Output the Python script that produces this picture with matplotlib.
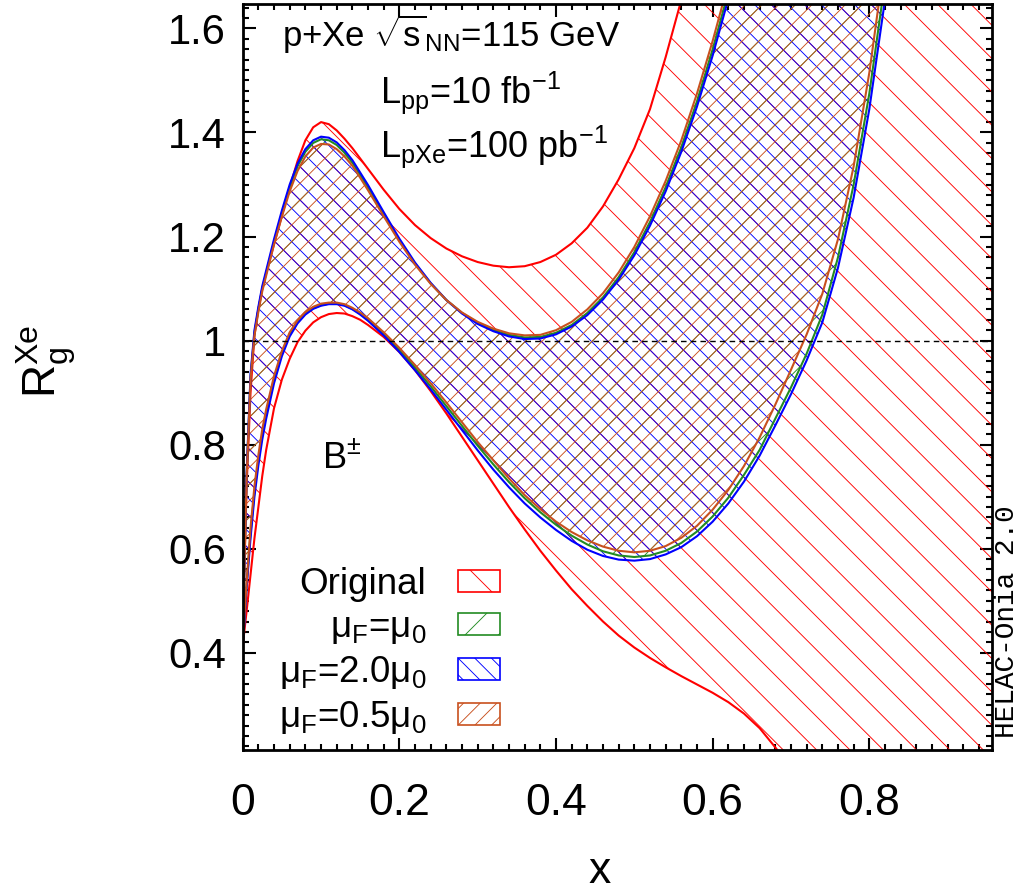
import numpy as np
import matplotlib
matplotlib.use("Agg")
import matplotlib.pyplot as plt
from matplotlib import font_manager
from matplotlib.patches import Patch

# ---------------- data ----------------
x = [0.0, 0.002, 0.005, 0.01, 0.015, 0.02, 0.025, 0.03,
     0.04, 0.05, 0.06, 0.07, 0.08, 0.09, 0.10,
     0.11, 0.12, 0.13, 0.14, 0.15, 0.16,
     0.18, 0.20, 0.22, 0.24, 0.26, 0.28, 0.30, 0.32, 0.34, 0.36, 0.38,
     0.40, 0.42, 0.44, 0.46, 0.48, 0.50, 0.52, 0.54, 0.56, 0.58, 0.60,
     0.62, 0.64, 0.66, 0.68, 0.70, 0.72, 0.74, 0.76, 0.78, 0.80, 0.82, 0.84, 0.86, 0.88, 0.92, 0.96]

orig_hi = [0.41, 0.55, 0.72, 0.90, 1.01, 1.06, 1.10, 1.13,
           1.185, 1.24, 1.295, 1.345, 1.385, 1.41, 1.42,
           1.416, 1.404, 1.388, 1.37, 1.35, 1.33,
           1.29, 1.253, 1.222, 1.197, 1.177, 1.162, 1.151, 1.144, 1.141, 1.143, 1.151,
           1.165, 1.187, 1.217, 1.258, 1.31, 1.37, 1.445, 1.545, 1.655, 1.78, 1.93,
           2.1, 2.3, 2.5, 2.7, 2.9, 3.1, 3.3, 3.5, 3.7, 3.9, 4.1, 4.3, 4.5, 4.7, 5.1, 5.5]
orig_lo = [0.41, 0.44, 0.48, 0.55, 0.62, 0.68, 0.74, 0.79,
           0.87, 0.925, 0.965, 0.997, 1.019, 1.035, 1.045,
           1.051, 1.053, 1.052, 1.047, 1.04, 1.03,
           1.007, 0.978, 0.943, 0.903, 0.86, 0.815, 0.77, 0.725, 0.68, 0.637, 0.596,
           0.558, 0.522, 0.49, 0.46, 0.433, 0.41, 0.39, 0.372, 0.355, 0.339, 0.323,
           0.305, 0.283, 0.255, 0.218, 0.178, 0.138, 0.098, 0.058, 0.018, -0.022, -0.062, -0.1, -0.14, -0.18, -0.26, -0.34]

mu1_hi = [0.41, 0.56, 0.74, 0.93, 1.015, 1.06, 1.10, 1.13,
          1.19, 1.245, 1.295, 1.335, 1.363, 1.38, 1.387,
          1.385, 1.376, 1.361, 1.342, 1.318, 1.294,
          1.243, 1.193, 1.148, 1.11, 1.078, 1.053, 1.034, 1.02, 1.011, 1.006, 1.007,
          1.015, 1.03, 1.053, 1.083, 1.122, 1.17, 1.228, 1.295, 1.372, 1.46, 1.56,
          1.67, 1.79, 1.92, 2.06, 2.2, 2.35, 2.5, 2.65, 2.8, 2.95, 3.1, 3.25, 3.4, 3.55, 3.85, 4.15]
mu1_lo = [0.41, 0.46, 0.53, 0.63, 0.71, 0.77, 0.82, 0.86,
          0.925, 0.975, 1.012, 1.036, 1.052, 1.062, 1.068,
          1.071, 1.071, 1.068, 1.061, 1.052, 1.04,
          1.013, 0.982, 0.948, 0.912, 0.874, 0.836, 0.798, 0.762, 0.728, 0.697, 0.67,
          0.646, 0.625, 0.608, 0.595, 0.587, 0.584, 0.587, 0.596, 0.611, 0.633, 0.662,
          0.698, 0.742, 0.79, 0.85, 0.91, 0.975, 1.05, 1.16, 1.30, 1.475, 1.69, 1.93, 2.2, 2.5, 3.1, 3.7]

mu2_hi = [0.41, 0.56, 0.745, 0.935, 1.02, 1.065, 1.105, 1.135,
          1.195, 1.25, 1.30, 1.34, 1.368, 1.385, 1.392,
          1.39, 1.381, 1.366, 1.347, 1.323, 1.299,
          1.247, 1.196, 1.15, 1.111, 1.078, 1.052, 1.032, 1.018, 1.008, 1.003, 1.004,
          1.012, 1.027, 1.049, 1.079, 1.117, 1.164, 1.221, 1.287, 1.363, 1.45, 1.548,
          1.657, 1.777, 1.907, 2.05, 2.2, 2.35, 2.5, 2.65, 2.8, 2.95, 3.1, 3.25, 3.4, 3.55, 3.85, 4.15]
mu2_lo = [0.41, 0.455, 0.525, 0.62, 0.70, 0.76, 0.81, 0.85,
          0.918, 0.97, 1.008, 1.033, 1.05, 1.061, 1.067,
          1.07, 1.07, 1.067, 1.06, 1.05, 1.038,
          1.01, 0.978, 0.943, 0.906, 0.867, 0.828, 0.789, 0.752, 0.718, 0.687, 0.66,
          0.636, 0.615, 0.598, 0.586, 0.579, 0.577, 0.58, 0.589, 0.603, 0.624, 0.652,
          0.687, 0.729, 0.779, 0.837, 0.897, 0.962, 1.035, 1.14, 1.275, 1.445, 1.655, 1.89, 2.16, 2.46, 3.06, 3.66]

mu05_hi = [0.41, 0.555, 0.735, 0.925, 1.01, 1.055, 1.095, 1.125,
           1.185, 1.238, 1.287, 1.326, 1.354, 1.371, 1.378,
           1.377, 1.368, 1.354, 1.336, 1.313, 1.289,
           1.239, 1.19, 1.146, 1.109, 1.078, 1.054, 1.036, 1.023, 1.014, 1.01, 1.011,
           1.02, 1.036, 1.06, 1.091, 1.131, 1.18, 1.239, 1.307, 1.385, 1.475, 1.576,
           1.687, 1.81, 1.94, 2.08, 2.22, 2.37, 2.52, 2.67, 2.82, 2.97, 3.12, 3.27, 3.42, 3.57, 3.87, 4.17]
mu05_lo = [0.41, 0.465, 0.535, 0.64, 0.72, 0.78, 0.83, 0.868,
           0.932, 0.98, 1.016, 1.039, 1.055, 1.065, 1.071,
           1.073, 1.073, 1.07, 1.063, 1.054, 1.043,
           1.016, 0.986, 0.953, 0.918, 0.881, 0.843, 0.805, 0.77, 0.735, 0.703, 0.676,
           0.652, 0.632, 0.616, 0.604, 0.596, 0.593, 0.596, 0.605, 0.621, 0.644, 0.675,
           0.713, 0.759, 0.814, 0.877, 0.944, 1.012, 1.09, 1.195, 1.335, 1.515, 1.735, 1.99, 2.27, 2.57, 3.17, 3.77]

labels = ["Original", "μ$_\\mathrm{F}$=μ$_\\mathrm{0}$",
          "μ$_\\mathrm{F}$=2.0μ$_\\mathrm{0}$", "μ$_\\mathrm{F}$=0.5μ$_\\mathrm{0}$"]
colors = ["#ff0000", "#228b22", "#0000ff", "#c8501e"]
hatches = ["\\", "/", "\\\\", "//"]
xticks = [0, 0.2, 0.4, 0.6, 0.8]
xticklabels = ["0", "0.2", "0.4", "0.6", "0.8"]
yticks = [0.4, 0.6, 0.8, 1.0, 1.2, 1.4, 1.6]
yticklabels = ["0.4", "0.6", "0.8", "1", "1.2", "1.4", "1.6"]

# ---------------- fonts ----------------
names = {f.name for f in font_manager.fontManager.ttflist}
SANS = "Liberation Sans"
NARROW = "Liberation Sans Narrow" if "Liberation Sans Narrow" in names else SANS
plt.rcParams["font.family"] = [SANS, "DejaVu Sans"]
plt.rcParams["mathtext.fontset"] = "custom"
plt.rcParams["mathtext.rm"] = SANS
plt.rcParams["mathtext.it"] = SANS + ":italic"
plt.rcParams["mathtext.bf"] = SANS + ":bold"
plt.rcParams["mathtext.sf"] = SANS
plt.rcParams["hatch.linewidth"] = 0.65

W, H = 1021, 896
fig = plt.figure(figsize=(W / 100, H / 100), dpi=100)
L, R, T, B = 242.7, 992.3, 4.0, 749.5
ax = fig.add_axes([L / W, 1 - B / H, (R - L) / W, (B - T) / H])
ax.set_xlim(0, 0.957)
ax.set_ylim(0.214, 1.647)

def axpos(px, py):
    return (px - L) / (R - L), (B - py) / (B - T)

series = [(orig_lo, orig_hi), (mu1_lo, mu1_hi), (mu2_lo, mu2_hi), (mu05_lo, mu05_hi)]
for (lo, hi), c, h in zip(series, colors, hatches):
    ax.fill_between(x, lo, hi, facecolor="none", edgecolor=c, hatch=h, linewidth=0, zorder=2)
for (lo, hi), c in zip(series, colors):
    ax.plot(x, lo, color=c, lw=1.5, zorder=3)
    ax.plot(x, hi, color=c, lw=1.5, zorder=3)

ax.axhline(1.0, color="black", lw=1.0, dashes=(4, 3), zorder=4)

# axes styling
for s in ax.spines.values():
    s.set_linewidth(2.0)
    s.set_zorder(5)
ax.set_xticks(xticks)
ax.set_xticklabels(xticklabels, family=[NARROW, "DejaVu Sans"], fontsize=32)
ax.set_yticks(yticks)
ax.set_yticklabels(yticklabels, family=[SANS, "DejaVu Sans"], fontsize=30)
ax.xaxis.set_minor_locator(matplotlib.ticker.MultipleLocator(0.02))
ax.yaxis.set_minor_locator(matplotlib.ticker.MultipleLocator(0.02))
ax.tick_params(which="both", direction="in", top=True, right=True, width=1.5)
ax.tick_params(which="major", length=9)
ax.tick_params(which="minor", length=4.5)
ax.tick_params(axis="x", which="major", pad=24)
ax.tick_params(axis="y", which="major", pad=12)

fig.text(600 / W, 1 - 871 / H, "x", family=[NARROW, "DejaVu Sans"], fontsize=32,
         ha="center", va="center")
fig.text(46 / W, 1 - 361 / H, "R$_\\mathrm{g}^\\mathrm{Xe}$", family=[NARROW, "DejaVu Sans"],
         fontsize=33, rotation=90, ha="center", va="center")

# annotations
ax.text(*axpos(282, 47), "p+Xe $\\sqrt{\\mathrm{s}}_\\mathrm{NN}$=115 GeV", transform=ax.transAxes,
        fontsize=25, va="baseline", ha="left", zorder=6)
ax.text(*axpos(380, 103), "L$_\\mathrm{pp}$=10 fb$^\\mathrm{-1}$", transform=ax.transAxes,
        fontsize=26, va="baseline", ha="left", zorder=6)
ax.text(*axpos(380, 157), "L$_\\mathrm{pXe}$=100 pb$^\\mathrm{-1}$", transform=ax.transAxes,
        fontsize=26, va="baseline", ha="left", zorder=6)
ax.text(*axpos(322, 468), "B$^{\\pm}$", transform=ax.transAxes,
        fontsize=26, va="baseline", ha="left", zorder=6)

fig.text(1007 / W, 1 - 622 / H, "HELAC-Onia 2.0", rotation=90, ha="center", va="center",
         family=["Liberation Mono", "DejaVu Sans Mono"], fontsize=20)

handles = [Patch(facecolor="white", edgecolor=c, hatch=h, linewidth=1.2)
           for c, h in zip(colors, hatches)]
leg = ax.legend(handles, labels, loc="upper right", bbox_to_anchor=axpos(500, 567),
                frameon=False, markerfirst=False, fontsize=26.5, handlelength=1.15,
                handleheight=0.55, labelspacing=0.22, handletextpad=0.85,
                borderpad=0, borderaxespad=0)
leg.set_zorder(6)

fig.savefig("out.png", dpi=100, facecolor="white")
